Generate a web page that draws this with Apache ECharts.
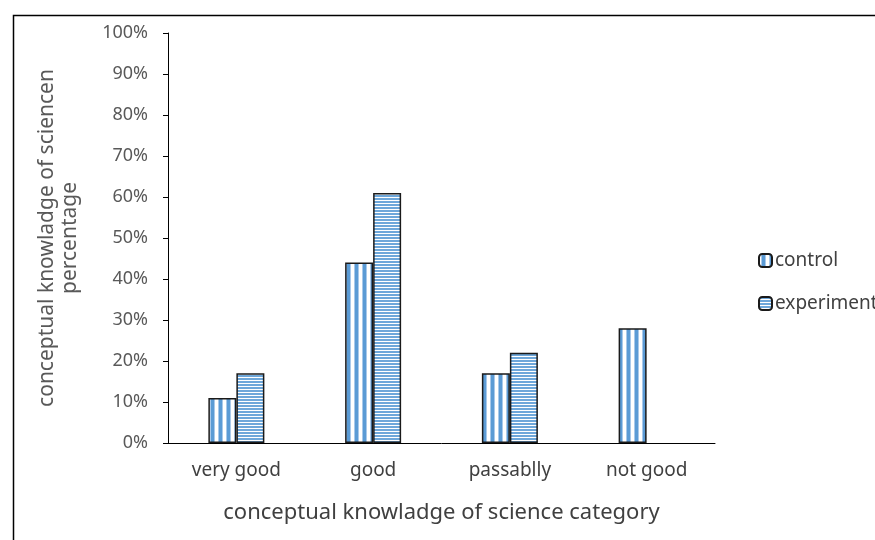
<!DOCTYPE html>
<html>
<head>
<meta charset="utf-8">
<script src="https://cdn.jsdelivr.net/npm/echarts@6/dist/echarts.min.js"></script>
<style>
  html, body { margin: 0; padding: 0; background: #fff; }
  #chart { width: 875px; height: 540px; }
</style>
</head>
<body>
<div id="chart"></div>
<script>
const categories = ["very good", "good", "passablly", "not good"];
const controlValues = [11, 44, 17, 28];
const experimentValues = [17, 61, 22, 0];
const seriesNames = ["control", "experiment"];

// stripe patterns like the excel fill
function stripes(vertical) {
  const c = document.createElement("canvas");
  if (vertical) {
    c.width = 8; c.height = 1;
    const ctx = c.getContext("2d");
    ctx.fillStyle = "#fff"; ctx.fillRect(0, 0, 8, 1);
    ctx.fillStyle = "#a9c9ea"; ctx.fillRect(2, 0, 1, 1); ctx.fillRect(6, 0, 1, 1);
    ctx.fillStyle = "#5b9bd5"; ctx.fillRect(3, 0, 3, 1);
  } else {
    c.width = 1; c.height = 3;
    const ctx = c.getContext("2d");
    ctx.fillStyle = "#fff"; ctx.fillRect(0, 0, 1, 3);
    ctx.fillStyle = "#6ea7da"; ctx.fillRect(0, 0, 1, 2);
  }
  return { image: c, repeat: "repeat" };
}

(function () {
  const myChart = echarts.init(document.getElementById("chart"));
  const font = "Noto Sans";

  const option = {
    animation: false,
    graphic: [{
      type: "rect",
      left: 11, top: 13,
      shape: { width: 900, height: 600 },
      style: { fill: "none", stroke: "#000", lineWidth: 1.5 },
      silent: true
    }],
    legend: {
      orient: "vertical",
      left: 753, top: 246,
      itemWidth: 13, itemHeight: 13,
      itemGap: 24,
      textStyle: { fontFamily: font, fontSize: 19, color: "#404040", padding: [0, 0, 0, -2] },
      data: seriesNames
    },
    grid: { left: 168, top: 33, right: 160, bottom: 97 },
    xAxis: {
      type: "category",
      data: categories,
      axisTick: { show: false },
      axisLine: { lineStyle: { color: "#000", width: 1 } },
      axisLabel: { fontFamily: font, fontSize: 19, color: "#404040", margin: 18 },
      name: "conceptual knowladge of science category",
      nameLocation: "middle",
      nameGap: 59,
      nameTextStyle: { fontFamily: font, fontSize: 22, color: "#404040" }
    },
    yAxis: {
      type: "value",
      min: 0, max: 100, interval: 10,
      axisLine: { show: true, lineStyle: { color: "#000", width: 1 } },
      axisTick: { show: true, length: 5, lineStyle: { color: "#000" } },
      splitLine: { show: false },
      axisLabel: { fontFamily: font, fontSize: 18, color: "#595959", margin: 20, formatter: "{value}%" },
      name: "conceptual knowladge of sciencen\npercentage",
      nameLocation: "middle",
      nameGap: 86,
      nameRotate: 90,
      nameTextStyle: { fontFamily: font, fontSize: 21, color: "#595959", lineHeight: 23 }
    },
    series: [
      {
        name: seriesNames[0],
        type: "bar",
        data: controlValues,
        barWidth: 28,
        barGap: "0%",
        itemStyle: { color: stripes(true), borderColor: "#1a1a1a", borderWidth: 1.5 }
      },
      {
        name: seriesNames[1],
        type: "bar",
        data: experimentValues.map(v => (v === 0 ? null : v)),
        barWidth: 28,
        itemStyle: { color: stripes(false), borderColor: "#1a1a1a", borderWidth: 1.5 }
      }
    ]
  };

  myChart.setOption(option);
  window.addEventListener("resize", function () { myChart.resize(); });
})();
</script>
</body>
</html>
